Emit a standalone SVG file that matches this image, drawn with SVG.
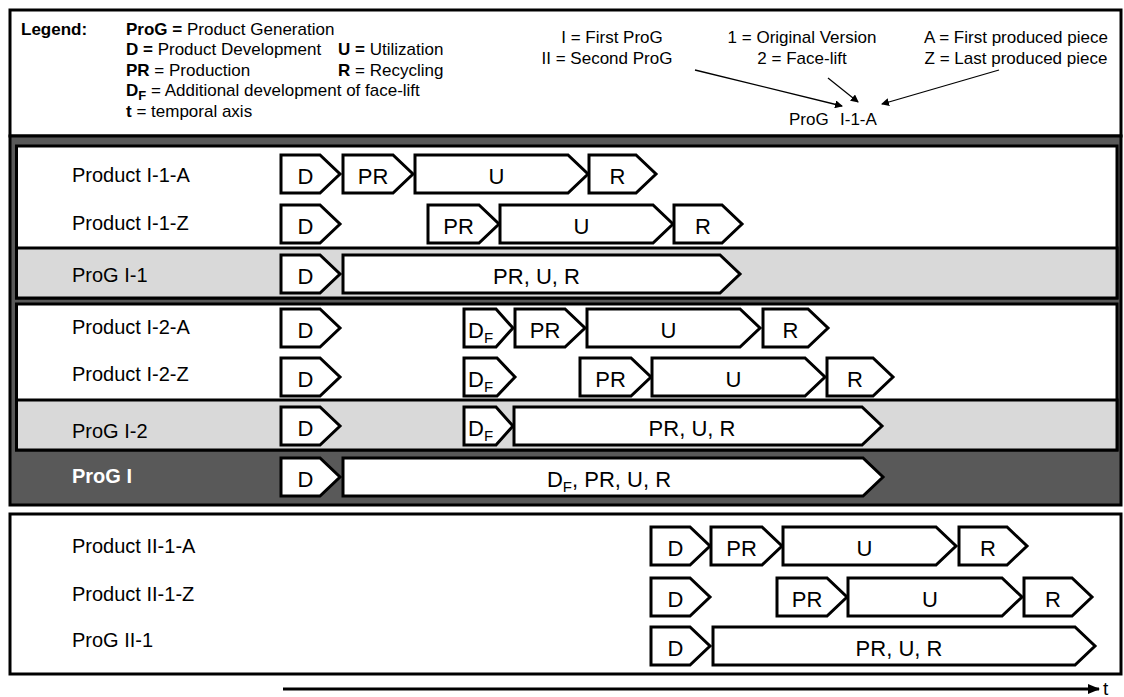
<svg xmlns="http://www.w3.org/2000/svg" width="1124" height="697" viewBox="0 0 1124 697">
<style>
text{font-family:"Liberation Sans",Arial,sans-serif;fill:#000}
.frame{stroke:#000;stroke-width:3}
.bar{fill:#fff;stroke:#000;stroke-width:3;stroke-linejoin:miter}
.bt{font-size:22px;text-anchor:middle}
.bs{font-size:22px}
.lbl{font-size:20px}
.lg{font-size:17px}
.rt{font-size:17px;text-anchor:middle}
.b{font-weight:bold}
.sub{font-size:13px}
.bsub{font-size:15px}
.conn{stroke:#000;fill:none}
</style>
<defs>
<marker id="ah" markerWidth="8" markerHeight="8" refX="7" refY="4" orient="auto" markerUnits="userSpaceOnUse">
<path d="M0,0 L8,4 L0,8 Z" fill="#000"/>
</marker>
<marker id="ta" markerWidth="12" markerHeight="10" refX="11" refY="5" orient="auto" markerUnits="userSpaceOnUse">
<path d="M0,0 L12,5 L0,10 Z" fill="#000"/>
</marker>
</defs>

<!-- frames -->
<g id="frames">
<rect class="frame" x="10" y="10" width="1111" height="126" fill="#fff"/>
<rect class="frame" x="10" y="136" width="1111" height="369" fill="#595959"/>
<rect class="frame" x="16.5" y="146" width="1100.5" height="152" fill="#fff"/>
<rect class="frame" x="16.5" y="248" width="1100.5" height="50" fill="#d9d9d9"/>
<rect class="frame" x="16.5" y="304" width="1100.5" height="146" fill="#fff"/>
<rect class="frame" x="16.5" y="400" width="1100.5" height="50" fill="#d9d9d9"/>
<rect class="frame" x="10" y="514" width="1111" height="160" fill="#fff"/>
</g>

<!-- legend -->
<g id="legend">
<text class="lg b" x="21" y="35">Legend:</text>
<text class="lg" x="126" y="35"><tspan class="b">ProG =</tspan> Product Generation</text>
<text class="lg" x="126" y="55"><tspan class="b">D =</tspan> Product Development</text>
<text class="lg" x="338" y="55"><tspan class="b">U =</tspan> Utilization</text>
<text class="lg" x="126" y="76"><tspan class="b">PR</tspan> = Production</text>
<text class="lg" x="338" y="76"><tspan class="b">R</tspan> = Recycling</text>
<text class="lg" x="126" y="96"><tspan class="b">D</tspan><tspan class="b sub" dy="4">F</tspan><tspan dy="-4"> = Additional development of face-lift</tspan></text>
<text class="lg" x="126" y="117"><tspan class="b">t</tspan> = temporal axis</text>
<text class="rt" x="612" y="43">I = First ProG</text>
<text class="rt" x="607" y="64">II = Second ProG</text>
<text class="rt" x="802" y="43">1 = Original Version</text>
<text class="rt" x="802" y="64">2 = Face-lift</text>
<text class="rt" x="1016" y="43">A = First produced piece</text>
<text class="rt" x="1016" y="64">Z = Last produced piece</text>
<text class="lg" x="789" y="125">ProG</text>
<text class="lg" x="840" y="125">I-1-A</text>
</g>

<!-- section I-1 -->
<g id="row-I-1-A">
<text class="lbl" x="72" y="182">Product I-1-A</text>
<path class="bar" d="M281,155 H320 L340,174 L320,193 H281 Z"/><text class="bt" x="305.5" y="183.5">D</text>
<path class="bar" d="M343,155 H393 L413,174 L393,193 H343 Z"/><text class="bt" x="373" y="183.5">PR</text>
<path class="bar" d="M415,155 H568 L588,174 L568,193 H415 Z"/><text class="bt" x="496.5" y="183.5">U</text>
<path class="bar" d="M589,155 H636 L656,174 L636,193 H589 Z"/><text class="bt" x="617.5" y="183.5">R</text>
</g>
<g id="row-I-1-Z">
<text class="lbl" x="72" y="230">Product I-1-Z</text>
<path class="bar" d="M281,205 H320 L340,224 L320,243 H281 Z"/><text class="bt" x="305.5" y="233.5">D</text>
<path class="bar" d="M428,205 H479 L499,224 L479,243 H428 Z"/><text class="bt" x="458.5" y="233.5">PR</text>
<path class="bar" d="M500,205 H653 L673,224 L653,243 H500 Z"/><text class="bt" x="581.5" y="233.5">U</text>
<path class="bar" d="M674,205 H722 L742,224 L722,243 H674 Z"/><text class="bt" x="703" y="233.5">R</text>
</g>
<g id="row-ProG-I-1">
<text class="lbl" x="72" y="282">ProG I-1</text>
<path class="bar" d="M281,255 H320 L340,274 L320,293 H281 Z"/><text class="bt" x="305.5" y="283.5">D</text>
<path class="bar" d="M343,255 H720 L740,274 L720,293 H343 Z"/><text class="bt" x="536.5" y="283.5">PR, U, R</text>
</g>

<!-- section I-2 -->
<g id="row-I-2-A">
<text class="lbl" x="72" y="334">Product I-2-A</text>
<path class="bar" d="M281,309 H320 L340,328 L320,347 H281 Z"/><text class="bt" x="305.5" y="337.5">D</text>
<path class="bar" d="M464,309 H496 L513,328 L496,347 H464 Z"/><text class="bs" x="468" y="337.5">D<tspan class="bsub" dy="5">F</tspan></text>
<path class="bar" d="M515,309 H565 L585,328 L565,347 H515 Z"/><text class="bt" x="545" y="337.5">PR</text>
<path class="bar" d="M587,309 H740 L760,328 L740,347 H587 Z"/><text class="bt" x="668.5" y="337.5">U</text>
<path class="bar" d="M763,309 H808 L828,328 L808,347 H763 Z"/><text class="bt" x="790.5" y="337.5">R</text>
</g>
<g id="row-I-2-Z">
<text class="lbl" x="72" y="381">Product I-2-Z</text>
<path class="bar" d="M281,358 H320 L340,377 L320,396 H281 Z"/><text class="bt" x="305.5" y="386.5">D</text>
<path class="bar" d="M464,358 H497 L515,377 L497,396 H464 Z"/><text class="bs" x="468" y="386.5">D<tspan class="bsub" dy="5">F</tspan></text>
<path class="bar" d="M580,358 H631 L651,377 L631,396 H580 Z"/><text class="bt" x="610.5" y="386.5">PR</text>
<path class="bar" d="M652,358 H805 L825,377 L805,396 H652 Z"/><text class="bt" x="733.5" y="386.5">U</text>
<path class="bar" d="M827,358 H873 L893,377 L873,396 H827 Z"/><text class="bt" x="855" y="386.5">R</text>
</g>
<g id="row-ProG-I-2">
<text class="lbl" x="72" y="438">ProG I-2</text>
<path class="bar" d="M281,407 H320 L340,426 L320,445 H281 Z"/><text class="bt" x="305.5" y="435.5">D</text>
<path class="bar" d="M464,407 H496 L513,426 L496,445 H464 Z"/><text class="bs" x="468" y="435.5">D<tspan class="bsub" dy="5">F</tspan></text>
<path class="bar" d="M514,407 H862 L882,426 L862,445 H514 Z"/><text class="bt" x="692" y="435.5">PR, U, R</text>
</g>
<g id="row-ProG-I">
<text class="lbl b" x="72" y="483" style="fill:#fff">ProG I</text>
<path class="bar" d="M281,458 H320 L340,477 L320,496 H281 Z"/><text class="bt" x="305.5" y="486.5">D</text>
<path class="bar" d="M343,458 H863 L883,477 L863,496 H343 Z"/><text class="bt" x="609" y="486.5">D<tspan class="bsub" dy="5">F</tspan><tspan dy="-5">, PR, U, R</tspan></text>
</g>

<!-- section II -->
<g id="row-II-1-A">
<text class="lbl" x="72" y="553">Product II-1-A</text>
<path class="bar" d="M651,527 H690 L710,546 L690,565 H651 Z"/><text class="bt" x="675.5" y="555.5">D</text>
<path class="bar" d="M711,527 H762 L782,546 L762,565 H711 Z"/><text class="bt" x="741.5" y="555.5">PR</text>
<path class="bar" d="M783,527 H936 L956,546 L936,565 H783 Z"/><text class="bt" x="864.5" y="555.5">U</text>
<path class="bar" d="M959,527 H1007 L1027,546 L1007,565 H959 Z"/><text class="bt" x="988" y="555.5">R</text>
</g>
<g id="row-II-1-Z">
<text class="lbl" x="72" y="601">Product II-1-Z</text>
<path class="bar" d="M651,578 H690 L710,597 L690,616 H651 Z"/><text class="bt" x="675.5" y="606.5">D</text>
<path class="bar" d="M777,578 H827 L847,597 L827,616 H777 Z"/><text class="bt" x="807" y="606.5">PR</text>
<path class="bar" d="M848,578 H1002 L1022,597 L1002,616 H848 Z"/><text class="bt" x="930" y="606.5">U</text>
<path class="bar" d="M1024,578 H1072 L1092,597 L1072,616 H1024 Z"/><text class="bt" x="1053" y="606.5">R</text>
</g>
<g id="row-ProG-II-1">
<text class="lbl" x="72" y="647">ProG II-1</text>
<path class="bar" d="M651,627 H690 L710,646 L690,665 H651 Z"/><text class="bt" x="675.5" y="655.5">D</text>
<path class="bar" d="M713,627 H1075 L1095,646 L1075,665 H713 Z"/><text class="bt" x="899" y="655.5">PR, U, R</text>
</g>

<!-- connectors -->
<g id="connectors">
<line class="conn" x1="695" y1="70" x2="842" y2="106" stroke-width="1.3" marker-end="url(#ah)"/>
<line class="conn" x1="828" y1="78" x2="858" y2="102" stroke-width="1.3" marker-end="url(#ah)"/>
<line class="conn" x1="999" y1="70" x2="882" y2="104" stroke-width="1.3" marker-end="url(#ah)"/>
<line class="conn" x1="283" y1="689" x2="1099" y2="689" stroke-width="3" marker-end="url(#ta)"/>
<text x="1103" y="695" style="font-size:19px">t</text>
</g>
</svg>
